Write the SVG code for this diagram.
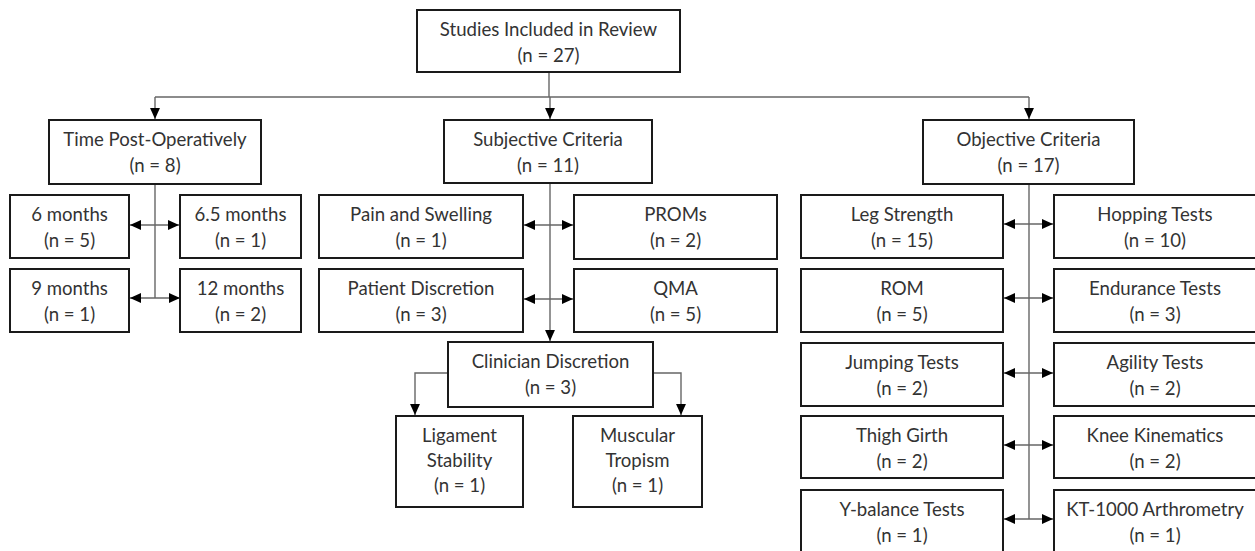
<svg xmlns="http://www.w3.org/2000/svg" width="1255" height="551" viewBox="0 0 1255 551">
<defs>
<style>
.box{fill:#fff;stroke:#1a1a1a;stroke-width:2}
.t{font-family:Lato,"Open Sans","Liberation Sans",sans-serif;font-size:18.6px;fill:#333;text-anchor:middle}
.c{fill:none;stroke:#666;stroke-width:1.4}
</style>
<marker id="ah" viewBox="0 0 10 10" refX="10" refY="5" markerWidth="11" markerHeight="11" markerUnits="userSpaceOnUse" orient="auto-start-reverse">
<path d="M0,0.5 L10,5 L0,9.5 z" fill="#000"/>
</marker>
</defs>
<rect width="1255" height="551" fill="#fff"/>
<g id="connectors">
<path class="c" d="M549,72 V97"/>
<path class="c" d="M155,97 H1029"/>
<path class="c" d="M155,97 V119" marker-end="url(#ah)"/>
<path class="c" d="M550,97 V119" marker-end="url(#ah)"/>
<path class="c" d="M1029,97 V119" marker-end="url(#ah)"/>
<path class="c" d="M155,184 V298"/>
<path class="c" d="M130,225 H179" marker-start="url(#ah)" marker-end="url(#ah)"/>
<path class="c" d="M130,298 H180" marker-start="url(#ah)" marker-end="url(#ah)"/>
<path class="c" d="M550,183 V341" marker-end="url(#ah)"/>
<path class="c" d="M524,225 H573" marker-start="url(#ah)" marker-end="url(#ah)"/>
<path class="c" d="M524,299 H573" marker-start="url(#ah)" marker-end="url(#ah)"/>
<path class="c" d="M448,373 H415 V415" marker-end="url(#ah)"/>
<path class="c" d="M653,373 H681 V415" marker-end="url(#ah)"/>
<path class="c" d="M1029,184 V519"/>
<path class="c" d="M1004,224 H1053" marker-start="url(#ah)" marker-end="url(#ah)"/>
<path class="c" d="M1004,298 H1053" marker-start="url(#ah)" marker-end="url(#ah)"/>
<path class="c" d="M1004,373 H1053" marker-start="url(#ah)" marker-end="url(#ah)"/>
<path class="c" d="M1004,445 H1053" marker-start="url(#ah)" marker-end="url(#ah)"/>
<path class="c" d="M1004,519 H1053" marker-start="url(#ah)" marker-end="url(#ah)"/>
</g>
<g id="root"><rect class="box" x="417" y="10" width="263" height="62"/><text class="t" x="548.5" y="36">Studies Included in Review</text><text class="t" x="548.5" y="62">(n = 27)</text></g>
<g id="time"><rect class="box" x="49" y="120" width="212" height="64"/><text class="t" x="155" y="146">Time Post-Operatively</text><text class="t" x="155" y="172">(n = 8)</text></g>
<g id="m6"><rect class="box" x="10" y="195" width="119" height="63"/><text class="t" x="69.5" y="221">6 months</text><text class="t" x="69.5" y="247">(n = 5)</text></g>
<g id="m65"><rect class="box" x="180" y="195" width="121" height="63"/><text class="t" x="240.5" y="221">6.5 months</text><text class="t" x="240.5" y="247">(n = 1)</text></g>
<g id="m9"><rect class="box" x="10" y="269" width="119" height="63"/><text class="t" x="69.5" y="295">9 months</text><text class="t" x="69.5" y="321">(n = 1)</text></g>
<g id="m12"><rect class="box" x="180" y="269" width="121" height="63"/><text class="t" x="240.5" y="295">12 months</text><text class="t" x="240.5" y="321">(n = 2)</text></g>
<g id="subj"><rect class="box" x="444" y="120" width="208" height="63"/><text class="t" x="548" y="146">Subjective Criteria</text><text class="t" x="548" y="172">(n = 11)</text></g>
<g id="pain"><rect class="box" x="319" y="195" width="204" height="63"/><text class="t" x="421" y="221">Pain and Swelling</text><text class="t" x="421" y="247">(n = 1)</text></g>
<g id="proms"><rect class="box" x="574" y="195" width="203" height="64"/><text class="t" x="675.5" y="221">PROMs</text><text class="t" x="675.5" y="247">(n = 2)</text></g>
<g id="patient"><rect class="box" x="319" y="269" width="204" height="63"/><text class="t" x="421" y="295">Patient Discretion</text><text class="t" x="421" y="321">(n = 3)</text></g>
<g id="qma"><rect class="box" x="574" y="269" width="203" height="63"/><text class="t" x="675.5" y="295">QMA</text><text class="t" x="675.5" y="321">(n = 5)</text></g>
<g id="clin"><rect class="box" x="448" y="342" width="205" height="65"/><text class="t" x="550.5" y="368">Clinician Discretion</text><text class="t" x="550.5" y="394">(n = 3)</text></g>
<g id="lig"><rect class="box" x="396" y="416" width="127" height="91"/><text class="t" x="459.5" y="442">Ligament</text><text class="t" x="459.5" y="467">Stability</text><text class="t" x="459.5" y="492">(n = 1)</text></g>
<g id="musc"><rect class="box" x="573" y="416" width="129" height="91"/><text class="t" x="637.5" y="442">Muscular</text><text class="t" x="637.5" y="467">Tropism</text><text class="t" x="637.5" y="492">(n = 1)</text></g>
<g id="obj"><rect class="box" x="923" y="120" width="211" height="64"/><text class="t" x="1028.5" y="146">Objective Criteria</text><text class="t" x="1028.5" y="172">(n = 17)</text></g>
<g id="leg"><rect class="box" x="801" y="195" width="202" height="63"/><text class="t" x="902" y="221">Leg Strength</text><text class="t" x="902" y="247">(n = 15)</text></g>
<g id="hop"><rect class="box" x="1054" y="195" width="203" height="63"/><text class="t" x="1155" y="221">Hopping Tests</text><text class="t" x="1155" y="247">(n = 10)</text></g>
<g id="rom"><rect class="box" x="801" y="269" width="202" height="63"/><text class="t" x="902" y="295">ROM</text><text class="t" x="902" y="321">(n = 5)</text></g>
<g id="endu"><rect class="box" x="1054" y="269" width="203" height="63"/><text class="t" x="1155" y="295">Endurance Tests</text><text class="t" x="1155" y="321">(n = 3)</text></g>
<g id="jump"><rect class="box" x="801" y="343" width="202" height="63"/><text class="t" x="902" y="369">Jumping Tests</text><text class="t" x="902" y="395">(n = 2)</text></g>
<g id="agil"><rect class="box" x="1054" y="343" width="203" height="63"/><text class="t" x="1155" y="369">Agility Tests</text><text class="t" x="1155" y="395">(n = 2)</text></g>
<g id="thigh"><rect class="box" x="801" y="416" width="202" height="62"/><text class="t" x="902" y="442">Thigh Girth</text><text class="t" x="902" y="468">(n = 2)</text></g>
<g id="knee"><rect class="box" x="1054" y="416" width="203" height="62"/><text class="t" x="1155" y="442">Knee Kinematics</text><text class="t" x="1155" y="468">(n = 2)</text></g>
<g id="ybal"><rect class="box" x="801" y="490" width="202" height="63"/><text class="t" x="902" y="516">Y-balance Tests</text><text class="t" x="902" y="542">(n = 1)</text></g>
<g id="kt"><rect class="box" x="1054" y="490" width="203" height="63"/><text class="t" x="1155" y="516">KT-1000 Arthrometry</text><text class="t" x="1155" y="542">(n = 1)</text></g>
</svg>
